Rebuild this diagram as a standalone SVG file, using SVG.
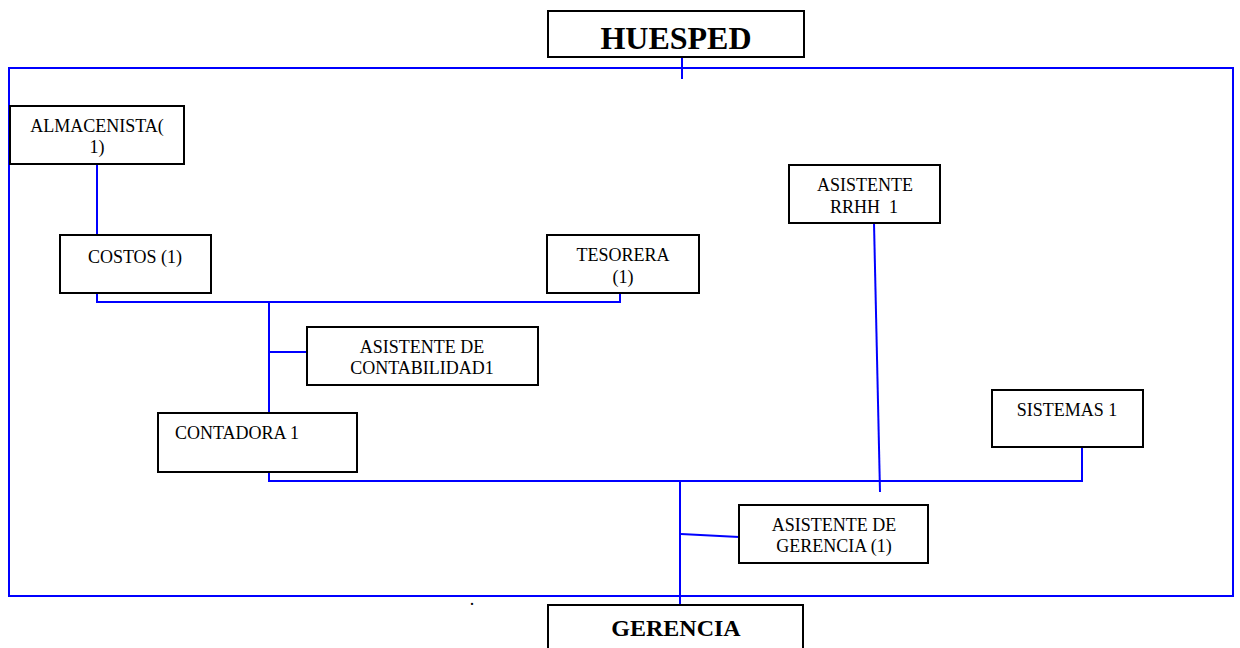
<svg xmlns="http://www.w3.org/2000/svg" width="1240" height="648" viewBox="0 0 1240 648">
  <style>
    .box { fill: #ffffff; stroke: #000000; stroke-width: 2; }
    .frame { fill: none; stroke: #0000ff; stroke-width: 2; }
    .link { fill: none; stroke: #0000ff; stroke-width: 2; }
    .lbl { font-family: "Liberation Serif", "Times New Roman", serif; font-size: 18px; fill: #000000; text-anchor: middle; }
    .title { font-family: "Liberation Serif", "Times New Roman", serif; font-weight: bold; fill: #000000; text-anchor: middle; }
  </style>
  <rect width="1240" height="648" fill="#ffffff"/>

  <!-- enclosing boundary -->
  <rect class="frame" x="9" y="68" width="1224" height="528"/>

  <!-- connectors -->
  <g id="connectors">
    <line class="link" x1="682" y1="57" x2="682" y2="79"/>
    <line class="link" x1="97" y1="164" x2="97" y2="235"/>
    <polyline class="link" points="97,293 97,302 620,302 620,293"/>
    <line class="link" x1="269" y1="302" x2="269" y2="413"/>
    <line class="link" x1="269" y1="352" x2="307" y2="352"/>
    <polyline class="link" points="269,472 269,481 1082,481 1082,447"/>
    <line class="link" x1="874" y1="223" x2="880" y2="492"/>
    <line class="link" x1="680" y1="481" x2="680" y2="605"/>
    <line class="link" x1="681" y1="534" x2="739" y2="537"/>
  </g>

  <g id="huesped">
    <rect class="box" x="548" y="11" width="256" height="46"/>
    <text class="title" x="676" y="49" font-size="32">HUESPED</text>
  </g>

  <g id="almacenista">
    <rect class="box" x="10" y="106" width="174" height="58"/>
    <text class="lbl" x="97" y="132">ALMACENISTA(</text>
    <text class="lbl" x="97" y="153">1)</text>
  </g>

  <g id="costos">
    <rect class="box" x="60" y="235" width="151" height="58"/>
    <text class="lbl" x="135" y="263">COSTOS (1)</text>
  </g>

  <g id="tesorera">
    <rect class="box" x="547" y="235" width="152" height="58"/>
    <text class="lbl" x="623" y="261">TESORERA</text>
    <text class="lbl" x="623" y="283">(1)</text>
  </g>

  <g id="asistente-contabilidad">
    <rect class="box" x="307" y="327" width="231" height="58"/>
    <text class="lbl" x="422" y="353">ASISTENTE DE</text>
    <text class="lbl" x="422" y="374">CONTABILIDAD1</text>
  </g>

  <g id="contadora">
    <rect class="box" x="158" y="413" width="199" height="59"/>
    <text class="lbl" x="175" y="439" style="text-anchor: start">CONTADORA 1</text>
  </g>

  <g id="asistente-rrhh">
    <rect class="box" x="789" y="165" width="151" height="58"/>
    <text class="lbl" x="865" y="191">ASISTENTE</text>
    <text class="lbl" x="864" y="213">RRHH&#160; 1</text>
  </g>

  <g id="sistemas">
    <rect class="box" x="992" y="390" width="151" height="57"/>
    <text class="lbl" x="1067" y="416">SISTEMAS 1</text>
  </g>

  <g id="asistente-gerencia">
    <rect class="box" x="739" y="505" width="189" height="58"/>
    <text class="lbl" x="834" y="531">ASISTENTE DE</text>
    <text class="lbl" x="834" y="552">GERENCIA (1)</text>
  </g>

  <g id="gerencia">
    <rect class="box" x="548" y="605" width="255" height="60"/>
    <text class="title" x="676" y="636" font-size="24">GERENCIA</text>
  </g>

  <text class="lbl" x="472" y="605" font-size="14">.</text>
</svg>
